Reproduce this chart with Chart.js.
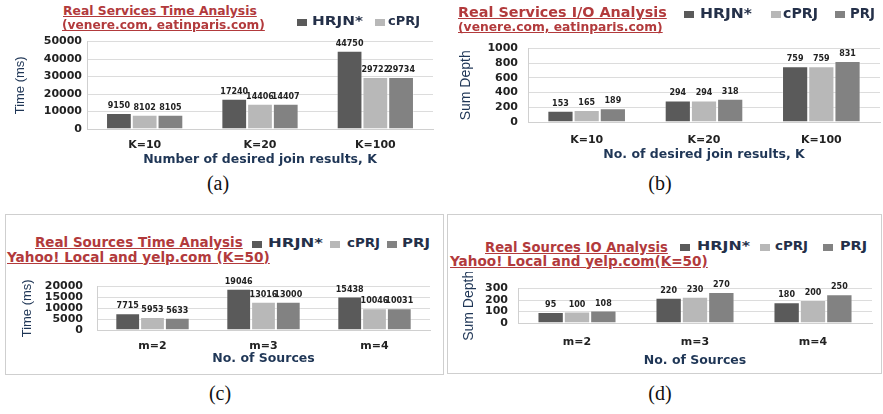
<!DOCTYPE html>
<html>
<head>
<meta charset="utf-8">
<script src="https://cdn.jsdelivr.net/npm/chart.js@4"></script>
<style>
  html,body{margin:0;padding:0;background:#fff;}
  #wrap{position:relative;width:883px;height:414px;overflow:hidden;background:#fff;}
  canvas{position:absolute;}
  .t{position:absolute;white-space:nowrap;font-family:"DejaVu Sans",sans-serif;font-weight:bold;color:#b23a3c;text-decoration:underline;line-height:1;}
  .leg{position:absolute;white-space:nowrap;font-family:"DejaVu Sans",sans-serif;font-weight:bold;color:#243049;line-height:1;transform-origin:0 50%;}
  .sq{position:absolute;}
  .cap{position:absolute;font-family:"Liberation Serif",serif;font-size:20px;color:#111;transform:translateX(-50%);line-height:1;}
  .box{position:absolute;border:1px solid #cfcfcf;}
</style>
</head>
<body>
<div id="wrap"></div>
<script>
// ---------- data ----------
const seriesNames = ["HRJN*", "cPRJ", "PRJ"];
const seriesColors = ["#5a5a5a", "#b8b8b8", "#828282"];

const kCategories = ["K=10", "K=20", "K=100"];
const mCategories = ["m=2", "m=3", "m=4"];

const timeServHRJN = [9150, 17240, 44750];
const timeServCPRJ = [8102, 14406, 29722];
const timeServPRJ  = [8105, 14407, 29734];

const ioServHRJN = [153, 294, 759];
const ioServCPRJ = [165, 294, 759];
const ioServPRJ  = [189, 318, 831];

const timeSrcHRJN = [7715, 19046, 15438];
const timeSrcCPRJ = [5953, 13016, 10046];
const timeSrcPRJ  = [5633, 13000, 10031];

const ioSrcHRJN = [95, 220, 180];
const ioSrcCPRJ = [100, 230, 200];
const ioSrcPRJ  = [108, 270, 250];

const yTicksA = [0, 10000, 20000, 30000, 40000, 50000];
const yTicksB = [0, 200, 400, 600, 800, 1000];
const yTicksC = [0, 5000, 10000, 15000, 20000];
const yTicksD = [0, 100, 200, 300];

// ---------- helpers ----------
const wrap = document.getElementById('wrap');
function el(cls, html, css){
  const d = document.createElement('div');
  d.className = cls; d.innerHTML = html;
  Object.assign(d.style, css); wrap.appendChild(d); return d;
}
// text fitted to a width; cy = vertical centre
function fitText(cls, text, x, cy, width){
  const d = el(cls, text, {left: x + 'px', top: '0px', fontSize: '20px'});
  const w = d.getBoundingClientRect().width;
  const fs = 20 * width / w;
  d.style.fontSize = fs + 'px';
  d.style.top = (cy - fs * 0.55) + 'px';
  return fs;
}
// legend label with given font size, horizontally stretched to a width
function legText(text, x, cy, fs, width){
  const d = el('leg', text, {left: x + 'px', top: (cy - fs * 0.55) + 'px', fontSize: fs + 'px'});
  const w = d.getBoundingClientRect().width;
  d.style.transform = 'scaleX(' + (width / w) + ')';
}
function legend(cy, fs, items){
  // items: [seriesIndex, squareX, textX, textWidth]
  items.forEach(([i, xs, xt, tw]) => {
    el('sq', '', {left: xs + 'px', top: (cy - 3.5) + 'px', width: '10px', height: '7px', background: seriesColors[i]});
    legText(seriesNames[i], xt, cy, fs, tw);
  });
}

const valueLabels = {
  id: 'valueLabels',
  afterDatasetsDraw(chart, args, opts){
    const ctx = chart.ctx;
    ctx.save();
    ctx.font = 'bold ' + opts.size + 'px "DejaVu Sans", sans-serif';
    ctx.fillStyle = '#222';
    ctx.textAlign = 'center';
    ctx.textBaseline = 'bottom';
    chart.data.datasets.forEach((ds, di) => {
      chart.getDatasetMeta(di).data.forEach((bar, j) => {
        ctx.fillText(String(ds.data[j]), bar.x, bar.y - 3);
      });
    });
    ctx.restore();
  }
};

function makeChart(cfg){
  const c = document.createElement('canvas');
  c.width = cfg.w; c.height = cfg.h;
  c.style.left = cfg.x0 + 'px'; c.style.top = cfg.y0 + 'px';
  c.style.width = cfg.w + 'px'; c.style.height = cfg.h + 'px';
  wrap.appendChild(c);
  const yW = cfg.plotLeft - cfg.x0;
  const xH = cfg.y0 + cfg.h - cfg.plotBottom;
  const ticks = cfg.yTicks;
  new Chart(c, {
    type: 'bar',
    data: {
      labels: cfg.labels,
      datasets: cfg.data.map((d, i) => ({
        label: seriesNames[i], data: d,
        backgroundColor: seriesColors[i],
        borderColor: 'rgba(255,255,255,0.35)', borderWidth: 1,
        categoryPercentage: 0.67, barPercentage: 1.0
      }))
    },
    plugins: [valueLabels],
    options: {
      responsive: false, animation: false, maintainAspectRatio: false,
      layout: {padding: {top: cfg.plotTop - cfg.y0, right: cfg.x0 + cfg.w - cfg.plotRight, left: 0, bottom: 0}},
      plugins: {
        legend: {display: false}, tooltip: {enabled: false}, title: {display: false},
        valueLabels: {size: cfg.labelSize}
      },
      scales: {
        x: {
          grid: {display: false, drawTicks: false},
          border: {display: true, color: '#d0d0d0'},
          ticks: {padding: cfg.xTickPad, color: '#222', font: {family: '"DejaVu Sans", sans-serif', weight: 'bold', size: 11}},
          title: {display: true, text: cfg.xTitle, color: '#1f3656', padding: {top: 0, bottom: cfg.xTitlePad},
                  font: {family: '"DejaVu Sans", sans-serif', weight: 'bold', size: 12.5}},
          afterFit(s){ s.height = xH; }
        },
        y: {
          min: ticks[0], max: ticks[ticks.length - 1],
          afterBuildTicks(s){ s.ticks = ticks.map(v => ({value: v})); },
          grid: {color: '#dcdcdc', drawTicks: false},
          border: {display: true, color: '#d0d0d0'},
          ticks: {padding: cfg.yTickPad, color: '#222', autoSkip: false, callback: v => String(v),
                  font: {family: '"DejaVu Sans", sans-serif', weight: 'bold', size: 11}},
          title: {display: true, text: cfg.yTitle, color: '#1f3656', padding: {top: cfg.yTitlePad, bottom: 0},
                  font: {family: '"Liberation Sans Narrow", "Liberation Sans", sans-serif', size: cfg.yTitleSize}},
          afterFit(s){ s.width = yW; }
        }
      }
    }
  });
}

// ---------- boxes for (c) and (d) ----------
el('box', '', {left: '5px', top: '214px', width: '437px', height: '159px'});
el('box', '', {left: '447px', top: '214px', width: '433px', height: '158px'});

// ---------- (a) ----------
makeChart({x0: 0, y0: 30, w: 440, h: 140, plotLeft: 87, plotRight: 433, plotTop: 39, plotBottom: 129,
  labels: kCategories, data: [timeServHRJN, timeServCPRJ, timeServPRJ], yTicks: yTicksA,
  xTitle: 'Number of desired join results, K', yTitle: 'Time (ms)', yTitleSize: 13, yTitlePad: 13,
  xTickPad: 10, xTitlePad: 3, yTickPad: 5, labelSize: 8});
fitText('t', 'Real Services Time Analysis', 63, 12, 194);
fitText('t', '(venere.com, eatinparis.com)', 62, 26, 203);
legend(22, 12, [[0, 297, 312, 51], [1, 375, 388, 32]]);
el('cap', '(a)', {left: '218px', top: '173px'});

// ---------- (b) ----------
makeChart({x0: 440, y0: 32, w: 443, h: 133, plotLeft: 528, plotRight: 880, plotTop: 42, plotBottom: 122,
  labels: kCategories, data: [ioServHRJN, ioServCPRJ, ioServPRJ], yTicks: yTicksB,
  xTitle: 'No. of desired join results, K', yTitle: 'Sum Depth', yTitleSize: 14, yTitlePad: 18,
  xTickPad: 12, xTitlePad: 3, yTickPad: 10, labelSize: 8});
fitText('t', 'Real Services I/O Analysis', 458, 13, 209);
fitText('t', '(venere.com, eatinparis.com)', 458, 28, 205);
legend(14, 13.5, [[0, 684, 700, 52], [1, 771, 783, 35], [2, 835, 850, 25]]);
el('cap', '(b)', {left: '660px', top: '173px'});

// ---------- (c) ----------
makeChart({x0: 5, y0: 266, w: 437, h: 104, plotLeft: 97, plotRight: 430, plotTop: 274, plotBottom: 330,
  labels: mCategories, data: [timeSrcHRJN, timeSrcCPRJ, timeSrcPRJ], yTicks: yTicksC,
  xTitle: 'No. of Sources', yTitle: 'Time (ms)', yTitleSize: 13, yTitlePad: 15,
  xTickPad: 10, xTitlePad: 4, yTickPad: 14, labelSize: 8});
fitText('t', 'Real Sources Time Analysis', 35, 243, 208);
fitText('t', 'Yahoo! Local and yelp.com (K=50)', 7, 258, 263);
legend(244, 12.5, [[0, 252, 268, 55], [1, 330, 347, 33], [2, 387, 402, 28]]);
el('cap', '(c)', {left: '220px', top: '383px'});

// ---------- (d) ----------
makeChart({x0: 447, y0: 272, w: 433, h: 98, plotLeft: 518, plotRight: 872, plotTop: 282, plotBottom: 323,
  labels: mCategories, data: [ioSrcHRJN, ioSrcCPRJ, ioSrcPRJ], yTicks: yTicksD,
  xTitle: 'No. of Sources', yTitle: 'Sum Depth', yTitleSize: 14, yTitlePad: 14,
  xTickPad: 13, xTitlePad: 2, yTickPad: 10, labelSize: 8});
fitText('t', 'Real Sources IO Analysis', 485, 248, 183);
fitText('t', 'Yahoo! Local and yelp.com(K=50)', 450, 262, 258);
legend(247, 12.5, [[0, 680, 697, 53], [1, 760, 775, 33], [2, 823, 840, 27]]);
el('cap', '(d)', {left: '660px', top: '383px'});
</script>
</body>
</html>
